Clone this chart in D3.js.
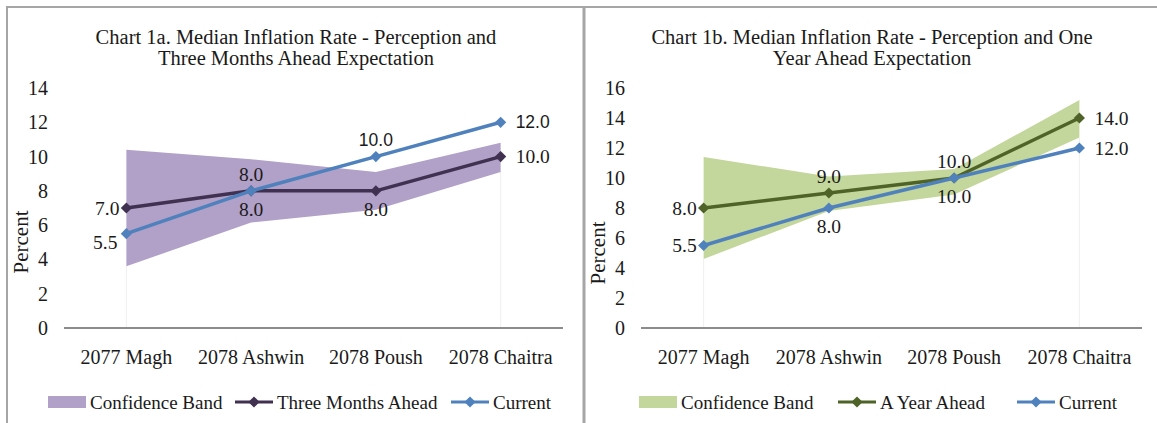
<!DOCTYPE html>
<html>
<head>
<meta charset="utf-8">
<script src="https://cdn.jsdelivr.net/npm/d3@7"></script>
<style>
  body { margin: 0; background: #fff; }
  svg { display: block; font-family: "Liberation Serif", "Times New Roman", serif; }
</style>
</head>
<body>
<svg id="chart" width="1157" height="423"></svg>
<script>
// category labels shared by both panels
const categories = ['2077 Magh', '2078 Ashwin', '2078 Poush', '2078 Chaitra'];

// chart 1a: three months ahead
const bandLowA = [3.6, 6.15, 6.9, 9.1];
const bandHighA = [10.4, 9.85, 9.1, 10.8];
const threeMonthsAhead = [7.0, 8.0, 8.0, 10.0];
const currentA = [5.5, 8.0, 10.0, 12.0];
const yTicksA = [0, 2, 4, 6, 8, 10, 12, 14];

// chart 1b: one year ahead
const bandLowB = [4.6, 7.8, 8.9, 12.7];
const bandHighB = [11.4, 10.1, 10.6, 15.2];
const yearAhead = [8.0, 9.0, 10.0, 14.0];
const currentB = [5.5, 8.0, 10.0, 12.0];
const yTicksB = [0, 2, 4, 6, 8, 10, 12, 14, 16];

const svg = d3.select('#chart');
const frame = '#a6a6a6';
const ink = '#1a1a1a';

// panel frame
svg.append('line').attr('x1', 6).attr('x2', 1157).attr('y1', 7).attr('y2', 7)
  .attr('stroke', frame).attr('stroke-width', 2);
svg.append('line').attr('x1', 7).attr('x2', 7).attr('y1', 7).attr('y2', 423)
  .attr('stroke', frame).attr('stroke-width', 2);
svg.append('line').attr('x1', 584).attr('x2', 584).attr('y1', 7).attr('y2', 423)
  .attr('stroke', frame).attr('stroke-width', 3);

function drawChart(cfg) {
  const g = svg.append('g');

  const x = d3.scaleBand()
    .domain(categories)
    .range(cfg.xRange);

  const y = d3.scaleLinear()
    .domain([0, d3.max(cfg.ticks)])
    .range([328, 88]);

  const cx = d => x(d) + x.bandwidth() / 2;

  // title
  cfg.title.forEach((t, i) => {
    g.append('text')
      .attr('x', cfg.titleX)
      .attr('y', 44 + i * 21)
      .attr('text-anchor', 'middle')
      .style('font-size', '20.5px')
      .attr('fill', ink)
      .text(t);
  });

  // y tick labels
  g.append('g')
    .selectAll('text')
    .data(cfg.ticks)
    .enter()
    .append('text')
    .attr('x', cfg.xRange[0] - 16)
    .attr('y', d => y(d))
    .attr('dy', '0.35em')
    .attr('text-anchor', 'end')
    .style('font-size', '20px')
    .attr('fill', ink)
    .text(d => d);

  g.append('text')
    .attr('transform', `translate(${cfg.xRange[0] - 43},${cfg.yTitleY}) rotate(-90)`)
    .attr('text-anchor', 'middle')
    .attr('dy', '0.35em')
    .style('font-size', '21px')
    .attr('fill', ink)
    .text('Percent');

  // faint edges of the stacked band base
  [0, categories.length - 1].forEach(i => {
    g.append('line')
      .attr('x1', cx(categories[i])).attr('x2', cx(categories[i]))
      .attr('y1', y(0)).attr('y2', y(cfg.bandLow[i]))
      .attr('stroke', '#efefef').attr('stroke-width', 1);
  });

  // confidence band
  const area = d3.area()
    .x((d, i) => cx(categories[i]))
    .y0(d => y(d[0]))
    .y1(d => y(d[1]));

  g.append('path')
    .datum(cfg.bandLow.map((d, i) => [d, cfg.bandHigh[i]]))
    .attr('d', area)
    .attr('fill', cfg.bandColor);

  // x axis
  g.append('line')
    .attr('x1', cfg.xRange[0]).attr('x2', cfg.xRange[1])
    .attr('y1', y(0)).attr('y2', y(0))
    .attr('stroke', '#8c8c8c').attr('stroke-width', 2);

  g.append('g')
    .selectAll('text')
    .data(categories)
    .enter()
    .append('text')
    .attr('x', d => cx(d))
    .attr('y', 364)
    .attr('text-anchor', 'middle')
    .style('font-size', '20px')
    .attr('fill', ink)
    .text(d => d);

  const line = d3.line()
    .x((d, i) => cx(categories[i]))
    .y(d => y(d));

  const diamond = d3.symbol().type(d3.symbolDiamond2).size(80);

  cfg.series.forEach(s => {
    g.append('path')
      .datum(s.values)
      .attr('d', line)
      .attr('fill', 'none')
      .attr('stroke', s.color)
      .attr('stroke-width', 3.5)
      .attr('stroke-linejoin', 'round');

    g.append('g')
      .selectAll('path')
      .data(s.values)
      .enter()
      .append('path')
      .attr('d', diamond)
      .attr('transform', (d, i) => `translate(${cx(categories[i])},${y(d)})`)
      .attr('fill', s.color);

    g.append('g')
      .selectAll('text')
      .data(s.values)
      .enter()
      .append('text')
      .attr('x', (d, i) => {
        const p = s.pos[i];
        if (p === 'left') return cx(categories[i]) - 7;
        if (p === 'lowleft') return cx(categories[i]) - 9;
        if (p === 'right') return cx(categories[i]) + 15;
        return cx(categories[i]);
      })
      .attr('y', (d, i) => {
        const p = s.pos[i];
        if (p === 'above') return y(d) - 17;
        if (p === 'below') return y(d) + 18;
        if (p === 'lowleft') return y(d) + 8;
        return y(d);
      })
      .attr('dy', '0.35em')
      .attr('text-anchor', (d, i) => {
        const p = s.pos[i];
        if (p === 'left' || p === 'lowleft') return 'end';
        if (p === 'right') return 'start';
        return 'middle';
      })
      .style('font-family', (d, i) => (s.sans && s.sans[i] ? '"Liberation Sans", Arial, sans-serif' : null))
      .style('font-size', (d, i) => (s.sans && s.sans[i] ? '17.5px' : '19.5px'))
      .attr('fill', ink)
      .text(d => d.toFixed(1));
  });

  // legend
  const lg = g.append('g').attr('transform', 'translate(0,402)');
  lg.append('rect')
    .attr('x', cfg.legendX[0]).attr('y', -6)
    .attr('width', 38).attr('height', 12)
    .attr('fill', cfg.bandColor);
  lg.append('text')
    .attr('x', cfg.legendX[0] + 42).attr('y', 0).attr('dy', '0.35em')
    .style('font-size', '19px').attr('fill', ink)
    .text('Confidence Band');

  cfg.series.forEach((s, i) => {
    const lx = cfg.legendX[i + 1];
    lg.append('line')
      .attr('x1', lx).attr('x2', lx + 38)
      .attr('y1', 0).attr('y2', 0)
      .attr('stroke', s.color).attr('stroke-width', 3);
    lg.append('path')
      .attr('d', diamond)
      .attr('transform', `translate(${lx + 19},0)`)
      .attr('fill', s.color);
    lg.append('text')
      .attr('x', lx + 42).attr('y', 0).attr('dy', '0.35em')
      .style('font-size', '19px').attr('fill', ink)
      .text(s.name);
  });
}

drawChart({
  xRange: [64, 563],
  ticks: yTicksA,
  titleX: 296,
  yTitleY: 242,
  title: ['Chart 1a. Median Inflation Rate - Perception and', 'Three Months Ahead Expectation'],
  bandLow: bandLowA,
  bandHigh: bandHighA,
  bandColor: '#b1a0c7',
  legendX: [48, 235, 451],
  series: [
    { name: 'Three Months Ahead', values: threeMonthsAhead, color: '#403151',
      pos: ['left', 'above', 'below', 'right'] },
    { name: 'Current', values: currentA, color: '#4f81bd',
      pos: ['lowleft', 'below', 'above', 'right'], sans: [false, false, true, true] }
  ]
});

drawChart({
  xRange: [641, 1142],
  ticks: yTicksB,
  titleX: 872,
  yTitleY: 253,
  title: ['Chart 1b. Median Inflation Rate - Perception and One', 'Year Ahead Expectation'],
  bandLow: bandLowB,
  bandHigh: bandHighB,
  bandColor: '#c3d69b',
  legendX: [639, 838, 1017],
  series: [
    { name: 'A Year Ahead', values: yearAhead, color: '#4f6228',
      pos: ['left', 'above', 'above', 'right'] },
    { name: 'Current', values: currentB, color: '#4f81bd',
      pos: ['left', 'below', 'below', 'right'] }
  ]
});
</script>
</body>
</html>
